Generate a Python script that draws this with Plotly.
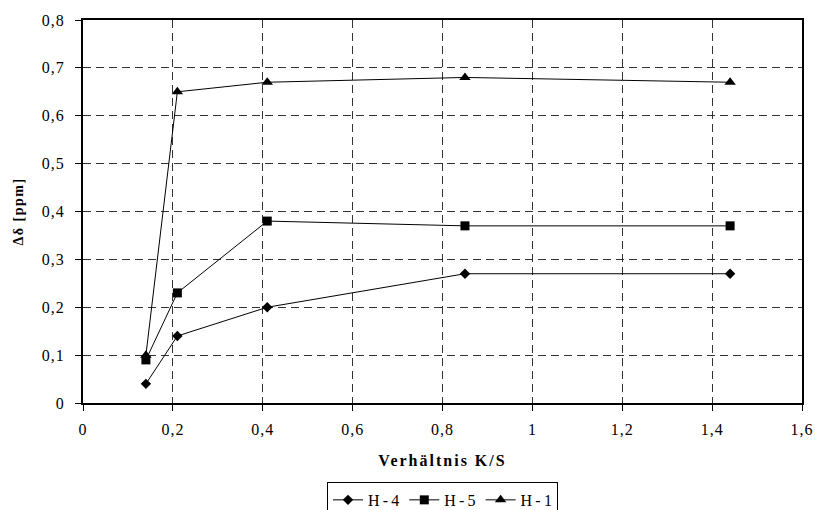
import plotly.graph_objects as go

x_vals = [0.14, 0.21, 0.41, 0.85, 1.44]
h4 = [0.04, 0.14, 0.20, 0.27, 0.27]
h5 = [0.09, 0.23, 0.38, 0.37, 0.37]
h1 = [0.10, 0.65, 0.67, 0.68, 0.67]
series_names = ["H\u2009-\u20094", "H\u2009-\u20095", "H\u2009-\u20091"]
x_ticks = [0, 0.2, 0.4, 0.6, 0.8, 1.0, 1.2, 1.4, 1.6]
x_tick_text = ["0", "0,2", "0,4", "0,6", "0,8", "1", "1,2", "1,4", "1,6"]
y_ticks = [0, 0.1, 0.2, 0.3, 0.4, 0.5, 0.6, 0.7, 0.8]
y_tick_text = ["0", "0,1", "0,2", "0,3", "0,4", "0,5", "0,6", "0,7", "0,8"]
x_title = "Verhältnis K/S"
y_title = "Δδ [ppm]"

font_family = "Liberation Serif, Times New Roman, serif"

fig = go.Figure()
symbols = ["diamond", "square", "triangle-up"]
sizes = [8, 9, 10]
for name, ys, sym, sz in zip(series_names, [h4, h5, h1], symbols, sizes):
    fig.add_trace(go.Scatter(
        x=x_vals, y=ys, name=name, mode="lines+markers",
        line=dict(color="black", width=1),
        marker=dict(symbol=sym, size=sz, color="black"),
    ))

axis_common = dict(
    showline=True, linecolor="black", linewidth=2, mirror=True,
    ticks="outside", ticklen=6, tickcolor="black", tickwidth=1,
    showgrid=True, gridcolor="#333333", griddash="8px,5px", gridwidth=1,
    zeroline=False, automargin=False,
    tickfont=dict(family=font_family, size=16, color="black"),
)

fig.update_xaxes(
    range=[0, 1.6], tickvals=x_ticks, ticktext=x_tick_text,
    ticklabelstandoff=5,
    title=dict(text="<b>" + x_title + "</b>", font=dict(family=font_family, size=16, color="black"), standoff=18),
    **axis_common,
)
fig.update_yaxes(
    range=[0, 0.8], tickvals=y_ticks, ticktext=y_tick_text,
    ticklabelstandoff=7,
    **axis_common,
)

fig.add_annotation(
    text="<b>" + y_title + "</b>", textangle=-90, showarrow=False,
    xref="paper", x=0, xanchor="center", xshift=-65,
    yref="paper", y=0.5, yanchor="middle",
    font=dict(family=font_family, size=14, color="black"),
)

fig.update_layout(
    width=815, height=510,
    margin=dict(l=83, r=13, t=20, b=107, autoexpand=False),
    paper_bgcolor="white", plot_bgcolor="white",
    font=dict(family=font_family, size=15, color="black"),
    showlegend=True,
    legend=dict(
        orientation="h", x=0.5, xanchor="center",
        yref="container", y=0.055, yanchor="top",
        bordercolor="black", borderwidth=1, bgcolor="white",
        font=dict(family=font_family, size=16, color="black"),
        itemwidth=30, tracegroupgap=0,
    ),
)

post = """
var st = document.createElement('style');
st.innerHTML = 'html, body {margin:0; padding:0; overflow:hidden;} .xtick text, .ytick text {letter-spacing: 1px;} .g-xtitle text {letter-spacing: 2px;} .annotation-text {letter-spacing: 1.5px;}';
document.head.appendChild(st);
"""

fig.write_html("out.html", post_script=post, config={"displayModeBar": False})
